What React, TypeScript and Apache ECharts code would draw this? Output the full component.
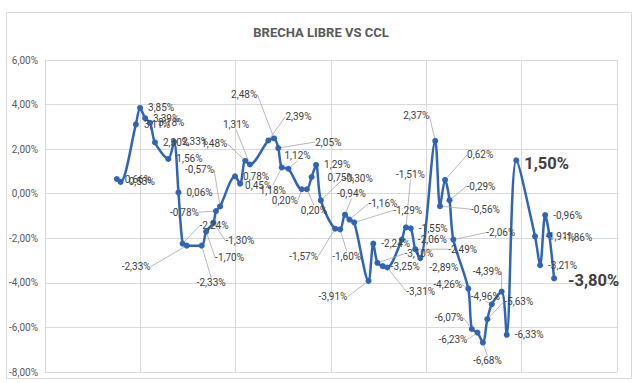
import React, { useEffect, useRef } from "react";
import * as echarts from "echarts";

// Position of each observation along the time axis (days from axis start)
const days = [22.6, 23.8, 28.6, 29.9, 31.5, 33.1, 34.6, 38.8, 40.6, 42.0, 43.3, 44.6, 49.3, 50.7, 53.0, 53.8, 55.1, 59.8, 61.4, 63.0, 64.5, 70.3, 72.1, 73.4, 74.5, 76.6, 80.8, 82.4, 83.9, 85.3, 86.8, 91.3, 92.9, 94.4, 95.8, 97.3, 101.8, 103.3, 104.6, 106.3, 107.7, 112.3, 113.6, 115.1, 116.5, 118.1, 122.8, 124.3, 125.9, 127.3, 128.5, 133.2, 134.3, 136.1, 137.8, 139.2, 140.6, 143.7, 145.3, 148.3, 154.2, 155.8, 157.4, 158.7, 160.2];

// Brecha libre vs CCL (%)
const brecha = [0.66, 0.53, 3.11, 3.85, 3.39, 3.18, 2.30, 1.56, 2.33, 0.06, -2.24, -2.33, -2.33, -1.70, -1.30, -0.78, -0.57, 0.78, 0.45, 1.48, 1.31, 2.39, 2.48, 2.05, 1.18, 1.12, 0.20, 0.20, 0.75, 1.29, -0.30, -1.57, -1.60, -0.94, -1.16, -1.29, -3.91, -2.24, -3.10, -3.25, -3.31, -2.06, -1.51, -1.55, -2.49, -2.89, 2.37, -0.56, 0.62, -0.29, -2.06, -4.26, -6.07, -6.23, -6.68, -5.63, -4.96, -4.39, -6.33, 1.50, -1.91, -3.21, -0.96, -1.86, -3.80];

const yTicks = { min: -8, max: 6, step: 2 };
const xTicks = { min: 0, max: 180, step: 30 };

// Layout only: label displacements (dx, dy) keyed by point index
const labelShift: Record<number, [number, number]> = {
  10: [9, -18], 11: [-73, 21], 12: [-13, 37], 13: [1, 26], 14: [4, 18],
  15: [-54, 1], 16: [-43, -37], 18: [-3, 2], 19: [-52, -17], 20: [-35, -40],
  21: [9, -24], 22: [-51, -44], 23: [29, -6], 24: [-30, 23], 25: [-12, -13],
  26: [-38, 11], 27: [-14, 21], 28: [8, 0], 30: [15, -22], 31: [-54, 28],
  32: [-16, 27], 33: [-16, -21], 34: [11, -16], 35: [31, -12], 36: [-58, 16],
  38: [19, -9], 40: [11, 24], 41: [8, 0], 42: [-18, -53], 44: [25, 0],
  45: [1, 9], 46: [-40, -25], 47: [23, 3], 48: [14, -25], 49: [9, -14],
  50: [25, -7], 51: [-43, -4], 52: [-45, -11], 53: [-47, 7], 54: [-18, 18],
  55: [9, -18], 56: [-29, -8], 57: [-37, -20], 59: [0, 3], 60: [3, 0],
  63: [6, 2], 64: [6, 2],
};
const bigLabels = [59, 64];
const leaderIdx = [10, 11, 12, 13, 14, 15, 16, 19, 20, 21, 22, 23, 24, 25, 26, 27, 30, 31, 32, 33, 34, 35, 36, 38, 40, 42, 44, 46, 47, 48, 49, 50, 51, 52, 53, 54, 55, 56, 57];

const fmt = (v: number) => v.toFixed(2).replace(".", ",") + "%";

export default function App() {
  const ref = useRef<HTMLDivElement>(null);
  useEffect(() => {
    if (!ref.current) return;
    const chart = echarts.init(ref.current, undefined, { renderer: "svg" });
    const data = days.map((d, i) => {
      const item: any = { value: [d, brecha[i]] };
      if (bigLabels.includes(i)) {
        item.label = { fontSize: 16.5, fontWeight: "bold", color: "#404040" };
      }
      item.labelLine = { show: leaderIdx.includes(i) };
      return item;
    });
    chart.setOption({
      animation: false,
      backgroundColor: "#ffffff",
      textStyle: { fontFamily: "Roboto" },
      title: {
        text: "BRECHA LIBRE VS CCL",
        left: "center",
        top: 21,
        textStyle: { fontSize: 13, fontWeight: "bold", color: "#595959", fontFamily: "Roboto" },
      },
      graphic: [
        {
          type: "rect",
          shape: { x: 6.5, y: 12.5, width: 625, height: 366 },
          style: { fill: "none", stroke: "#D9D9D9", lineWidth: 1 },
          silent: true,
        },
      ],
      grid: { left: 45, right: 25, top: 60, bottom: 11, containLabel: false },
      xAxis: {
        type: "value",
        min: xTicks.min,
        max: xTicks.max,
        interval: xTicks.step,
        axisLabel: { show: false },
        axisTick: { show: false },
        axisLine: { show: true, onZero: false, lineStyle: { color: "#D9D9D9" } },
        splitLine: { show: true, lineStyle: { color: "#D9D9D9", width: 1 } },
      },
      yAxis: {
        type: "value",
        min: yTicks.min,
        max: yTicks.max,
        interval: yTicks.step,
        axisLabel: {
          formatter: (v: number) => fmt(v),
          color: "#595959",
          fontSize: 10,
          fontFamily: "Roboto",
          margin: 7,
        },
        axisTick: { show: false },
        axisLine: { show: true, lineStyle: { color: "#D9D9D9" } },
        splitLine: { show: true, lineStyle: { color: "#D9D9D9", width: 1 } },
      },
      series: [
        {
          type: "line",
          data,
          smooth: 0.3,
          symbol: "circle",
          symbolSize: 6,
          itemStyle: { color: "#2F64B6" },
          lineStyle: { color: "#2F64B6", width: 2.5 },
          label: {
            show: true,
            position: "right",
            distance: 5,
            fontSize: 10,
            color: "#404040",
            fontFamily: "Roboto",
            formatter: (p: any) => fmt(p.value[1]),
          },
          labelLine: { show: false, lineStyle: { color: "#A6A6A6", width: 0.8 } },
          labelLayout: (p: any) => {
            const s = labelShift[p.dataIndex];
            return s ? { dx: s[0], dy: s[1], hideOverlap: false } : { hideOverlap: false };
          },
        },
      ],
    });
    return () => chart.dispose();
  }, []);
  return (
    <div
      ref={ref}
      style={{ position: "fixed", left: 0, top: 0, width: 642, height: 383 }}
    />
  );
}
